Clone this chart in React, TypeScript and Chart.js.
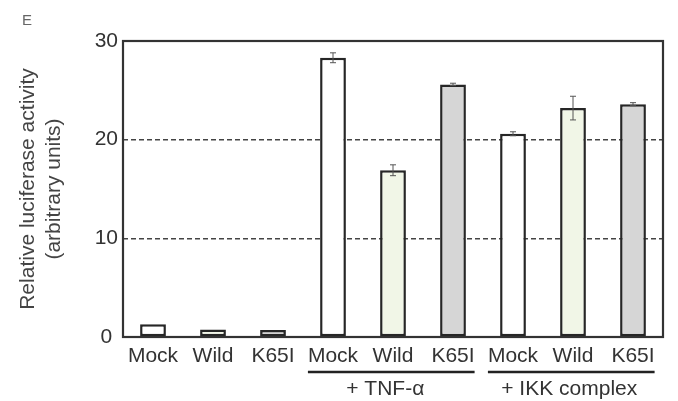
import React, { useEffect, useRef } from "react";
import { Chart, registerables } from "chart.js";

Chart.register(...registerables);

const categories = ["Mock", "Wild", "K65I", "Mock", "Wild", "K65I", "Mock", "Wild", "K65I"];
const values = [1.3, 0.75, 0.7, 28.3, 16.9, 25.6, 20.6, 23.2, 23.6];
const errors = [0, 0, 0, 0.5, 0.55, 0.12, 0.2, 1.2, 0.15];
const barColors = ["#ffffff", "#f1f6e7", "#d6d6d6", "#ffffff", "#f1f6e7", "#d6d6d6", "#ffffff", "#f1f6e7", "#d6d6d6"];
const yTicks = [0, 10, 20, 30];
const groupLabels = ["+ TNF-\u03b1", "+ IKK complex"];
const groupStart = [3, 6];
const groupEnd = [5, 8];
const yTitle = ["Relative luciferase activity", "(arbitrary units)"];
const panelLetter = "E";

const FONT = "'Liberation Sans', Arial, sans-serif";
const TEXT = "#333";

const decorPlugin = {
  id: "decor",
  afterDatasetsDraw(chart: any) {
    const ctx = chart.ctx;
    const ys = chart.scales.y;
    const meta = chart.getDatasetMeta(0);
    ctx.save();
    ctx.strokeStyle = "#555";
    ctx.lineWidth = 1;
    meta.data.forEach((bar: any, i: number) => {
      const e = errors[i];
      if (!e) return;
      const x = bar.x;
      const y1 = ys.getPixelForValue(values[i] + e);
      const y2 = ys.getPixelForValue(values[i] - e);
      ctx.beginPath();
      ctx.moveTo(x, y1);
      ctx.lineTo(x, y2);
      ctx.moveTo(x - 3, y1);
      ctx.lineTo(x + 3, y1);
      ctx.moveTo(x - 3, y2);
      ctx.lineTo(x + 3, y2);
      ctx.stroke();
    });
    ctx.restore();
  },
  afterDraw(chart: any) {
    const ctx = chart.ctx;
    const a = chart.chartArea;
    const xs = chart.scales.x;
    ctx.save();
    ctx.strokeStyle = "#333";
    ctx.lineWidth = 2.2;
    ctx.strokeRect(a.left, a.top, a.right - a.left, a.bottom - a.top);

    ctx.font = `21px ${FONT}`;
    ctx.fillStyle = TEXT;
    ctx.strokeStyle = "#222";
    ctx.lineWidth = 2.5;
    groupLabels.forEach((lab, g) => {
      const s = groupStart[g];
      const e = groupEnd[g];
      const x1 = xs.getPixelForValue(s) - ctx.measureText(categories[s]).width / 2;
      const x2 = xs.getPixelForValue(e) + ctx.measureText(categories[e]).width / 2;
      ctx.beginPath();
      ctx.moveTo(x1, 372);
      ctx.lineTo(x2, 372);
      ctx.stroke();
      ctx.textAlign = "center";
      ctx.textBaseline = "middle";
      ctx.fillText(lab, (x1 + x2) / 2 - (g === 0 ? 6 : 2), 389);
    });

    ctx.font = `15px ${FONT}`;
    ctx.fillStyle = "#666";
    ctx.textAlign = "left";
    ctx.textBaseline = "alphabetic";
    ctx.fillText(panelLetter, 22, 25);
    ctx.restore();
  },
};

export default function App() {
  const ref = useRef<HTMLCanvasElement | null>(null);
  useEffect(() => {
    document.body.style.margin = "0";
    const chart = new Chart(ref.current as HTMLCanvasElement, {
      type: "bar",
      data: {
        labels: categories,
        datasets: [
          {
            data: values,
            backgroundColor: barColors,
            borderColor: "#262626",
            borderWidth: 2.5,
            borderSkipped: false,
            barPercentage: 0.43,
            categoryPercentage: 1,
          },
        ],
      },
      options: {
        animation: false,
        responsive: false,
        maintainAspectRatio: false,
        layout: { padding: { top: 41, right: 15, left: 0, bottom: 0 } },
        plugins: { legend: { display: false }, tooltip: { enabled: false } },
        scales: {
          x: {
            afterFit: (s: any) => {
              s.height = 64;
            },
            grid: { display: false, drawTicks: false },
            border: { display: false },
            ticks: { color: TEXT, font: { family: FONT, size: 21 }, padding: 7 },
          },
          y: {
            min: 0,
            max: 30,
            afterFit: (s: any) => {
              s.width = 123;
            },
            afterBuildTicks: (s: any) => {
              s.ticks = yTicks.map((v) => ({ value: v }));
            },
            grid: {
              drawTicks: false,
              lineWidth: 1.4,
              color: (c: any) => (c.tick && (c.tick.value === 10 || c.tick.value === 20) ? "#444" : "rgba(0,0,0,0)"),
            },
            border: { display: false, dash: [5, 3] },
            ticks: { color: TEXT, font: { family: FONT, size: 21 }, padding: 5, crossAlign: "center" },
            title: {
              display: true,
              text: yTitle,
              color: "#444",
              font: { family: FONT, size: 21, lineHeight: 1.2 },
              padding: { top: 16, bottom: 0 },
            },
          },
        },
      },
      plugins: [decorPlugin],
    });
    return () => chart.destroy();
  }, []);
  return <canvas ref={ref} width={678} height={401} style={{ display: "block" }} />;
}
